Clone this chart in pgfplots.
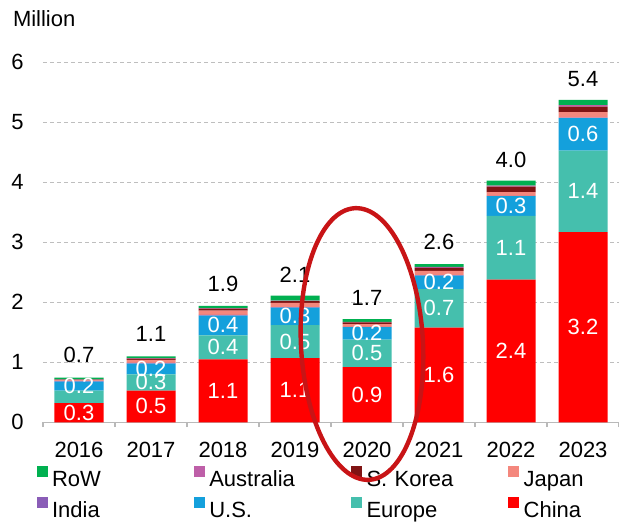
\documentclass[border=0pt]{standalone}
\usepackage{fontspec}
\setmainfont{Liberation Sans}
\usepackage{pgfplots}
\usepackage{pgfplotstable}
\pgfplotsset{compat=1.18}

\definecolor{cChina}{RGB}{255,0,0}
\definecolor{cEurope}{RGB}{69,191,173}
\definecolor{cUS}{RGB}{20,160,220}
\definecolor{cIndia}{RGB}{138,93,183}
\definecolor{cJapan}{RGB}{244,135,125}
\definecolor{cKorea}{RGB}{128,20,20}
\definecolor{cAus}{RGB}{190,95,168}
\definecolor{cRoW}{RGB}{0,176,80}
\definecolor{cEll}{RGB}{200,20,22}
\definecolor{cGrid}{RGB}{190,190,190}
\definecolor{cAxis}{RGB}{185,185,185}

\newcommand\lf{\fontsize{11}{13.2}\selectfont}

\pgfplotstableread{
x china europe us india japan korea aus row lchina leurope lus ltotal
0 0.32 0.21 0.15 0.005 0.015 0.010 0.005 0.030 0.3 {} 0.2 0.7
1 0.53 0.27 0.18 0.010 0.050 0.020 0.010 0.030 0.5 0.3 0.2 1.1
2 1.05 0.40 0.33 0.010 0.070 0.035 0.010 0.035 1.1 0.4 0.4 1.9
3 1.07 0.55 0.29 0.010 0.070 0.030 0.010 0.080 1.1 0.5 0.3 2.1
4 0.92 0.46 0.205 0.005 0.045 0.030 0.010 0.045 0.9 0.5 0.2 1.7
5 1.58 0.64 0.225 0.010 0.070 0.050 0.015 0.045 1.6 0.7 0.2 2.6
6 2.38 1.06 0.33 0.005 0.060 0.095 0.015 0.085 2.4 1.1 0.3 4.0
7 3.17 1.36 0.54 0.010 0.090 0.090 0.025 0.090 3.2 1.4 0.6 5.4
}\data

\pgfplotsset{
  sq/.style={legend image code/.code={\fill[##1] (0pt,2pt) rectangle (5.5pt,7.5pt);}},
  inlab/.style={nodes near coords, point meta=explicit symbolic,
    every node near coord/.append style={anchor=center, text=white, font=\lf,
      inner sep=0pt}},
}

\begin{document}
\begin{tikzpicture}
\begin{axis}[name=ax,
  x=36pt, y=30pt,
  xmin=-0.5, xmax=7.5, ymin=0, ymax=6,
  ybar stacked, bar width=24.5pt,
  axis x line*=bottom, axis y line*=left,
  y axis line style={draw=none},
  x axis line style={cAxis, line width=0.8pt},
  xtick={0,...,7},
  xticklabels={2016,2017,2018,2019,2020,2021,2022,2023},
  minor xtick={-0.5,0.5,...,7.5},
  ytick={0,...,6},
  major tick length=0pt, minor tick length=2.4pt, tick align=outside,
  minor x tick style={cAxis, line width=0.8pt},
  major tick style={draw=none},
  ymajorgrids,
  grid style={cGrid, line width=0.7pt, dash pattern=on 2pt off 1.5pt},
  /pgf/number format/assume math mode=true,
  tick label style={font=\lf},
  yticklabel style={anchor=east, inner sep=0pt, xshift=-9.5pt},
  xticklabel style={anchor=north, inner sep=0pt, yshift=-9.7pt},
  clip=false,
  legend columns=4, reverse legend,
  legend cell align=left,
  legend style={at={(0,0)}, anchor=north west, xshift=-3.15pt, yshift=-21.8pt,
    draw=none, fill=none, inner sep=0pt, outer sep=0pt, row sep=3pt, font=\lf,
    nodes={inner sep=0pt, text height=8pt, text depth=2.5pt, text width=70.9pt, align=left},
    /tikz/every odd column/.append style={column sep=2.2pt}},
]
\addplot[fill=cChina, draw=none, sq, inlab] table[x=x, y=china, meta=lchina] {\data};
\addlegendentry{China}
\addplot[fill=cEurope, draw=none, sq, inlab] table[x=x, y=europe, meta=leurope] {\data};
\addlegendentry{Europe}
\addplot[fill=cUS, draw=none, sq, inlab] table[x=x, y=us, meta=lus] {\data};
\addlegendentry{U.S.}
\addplot[fill=cIndia, draw=none, sq] table[x=x, y=india] {\data};
\addlegendentry{India}
\addplot[fill=cJapan, draw=none, sq] table[x=x, y=japan] {\data};
\addlegendentry{Japan}
\addplot[fill=cKorea, draw=none, sq] table[x=x, y=korea] {\data};
\addlegendentry{S. Korea}
\addplot[fill=cAus, draw=none, sq] table[x=x, y=aus] {\data};
\addlegendentry{Australia}
\addplot[fill=cRoW, draw=none, sq, nodes near coords, point meta=explicit symbolic,
  every node near coord/.append style={anchor=south, text=black, font=\lf, inner sep=0pt, yshift=7.5pt}]
  table[x=x, y=row, meta=ltotal] {\data};
\addlegendentry{RoW}
\coordinate (ec) at (axis cs:3.93,1.305);
\end{axis}
\draw[cEll, line width=2.2pt] (ec) ellipse [x radius=30.5pt, y radius=68pt, rotate=3];
\node[anchor=base west, inner sep=0pt, font=\lf] at ([xshift=-15.2pt,yshift=17.9pt]ax.north west) {Million};
\pgfresetboundingbox
\path ([xshift=-21.5pt,yshift=-49.35pt]ax.south west) rectangle ([yshift=31.15pt]ax.north east);
\end{tikzpicture}
\end{document}
